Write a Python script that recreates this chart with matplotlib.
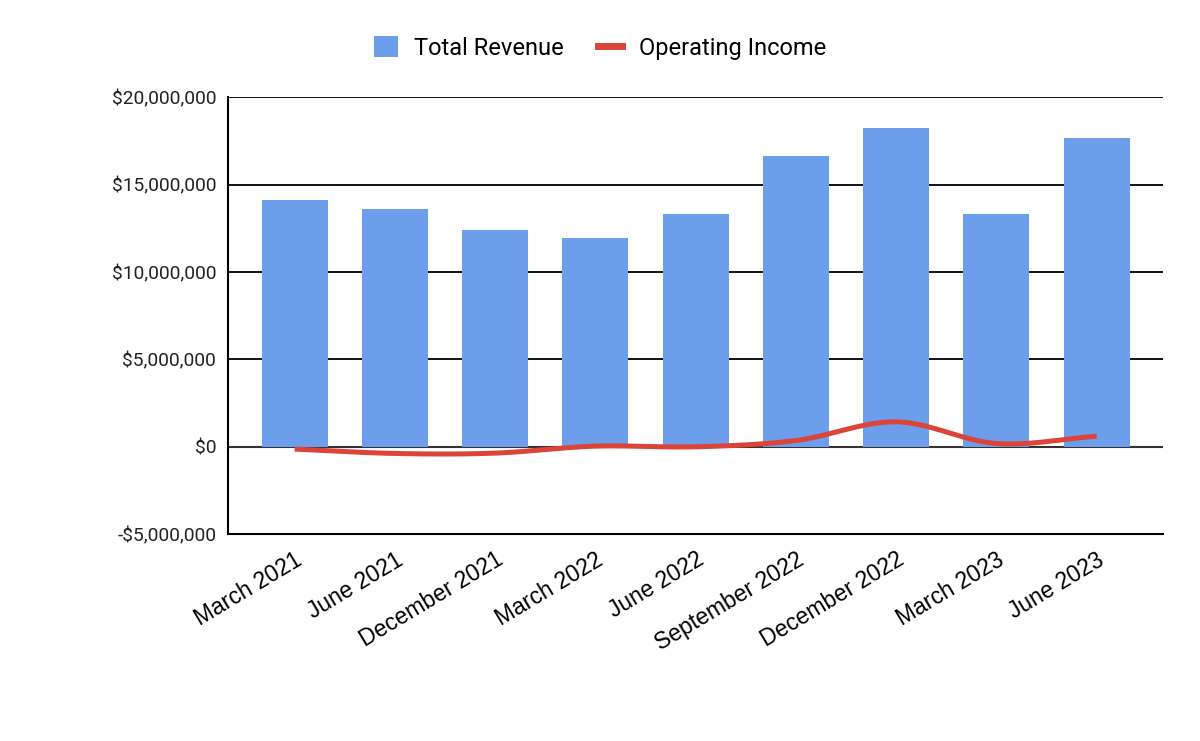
import matplotlib.pyplot as plt
import numpy as np
from matplotlib.lines import Line2D
from matplotlib.patches import Patch
from matplotlib.ticker import FuncFormatter

quarters = ['March 2021', 'June 2021', 'December 2021', 'March 2022', 'June 2022',
            'September 2022', 'December 2022', 'March 2023', 'June 2023']
total_revenue = [14.1e6, 13.62e6, 12.38e6, 11.92e6, 13.3e6, 16.61e6, 18.21e6, 13.3e6, 17.64e6]
operating_income = [-0.13e6, -0.38e6, -0.36e6, 0.04e6, 0.0, 0.36e6, 1.43e6, 0.19e6, 0.61e6]

bar_color = '#6d9eeb'
line_color = '#db4437'

plt.rcParams['font.family'] = ['Roboto', 'DejaVu Sans']

fig = plt.figure(figsize=(12, 7.41), dpi=100)
ax = fig.add_axes([0.19, 0.279, 0.779, 0.59])

x = np.arange(len(quarters))
ax.bar(x, total_revenue, width=0.66, color=bar_color, zorder=2)


# smooth curve through the points (catmull-rom), like the sheets "smooth" option
def smooth(xs, ys, n=30):
    xs = np.asarray(xs, float)
    ys = np.asarray(ys, float)
    px = np.concatenate([[2 * xs[0] - xs[1]], xs, [2 * xs[-1] - xs[-2]]])
    py = np.concatenate([[2 * ys[0] - ys[1]], ys, [2 * ys[-1] - ys[-2]]])
    out_x, out_y = [], []
    t = np.linspace(0, 1, n, endpoint=False)
    for i in range(1, len(px) - 2):
        for p, out in ((px, out_x), (py, out_y)):
            p0, p1, p2, p3 = p[i - 1], p[i], p[i + 1], p[i + 2]
            out.extend(0.5 * (2 * p1 + (-p0 + p2) * t + (2 * p0 - 5 * p1 + 4 * p2 - p3) * t ** 2
                              + (-p0 + 3 * p1 - 3 * p2 + p3) * t ** 3))
    out_x.append(xs[-1])
    out_y.append(ys[-1])
    return out_x, out_y


sx, sy = smooth(x, operating_income)
ax.plot(sx, sy, color=line_color, linewidth=3.6, solid_capstyle='butt', zorder=3)

ax.set_xlim(-0.665, 8.66)
ax.set_ylim(-5e6, 20e6)
ax.set_yticks(np.arange(-5e6, 20e6 + 1, 5e6))
ax.yaxis.set_major_formatter(FuncFormatter(
    lambda v, p: ('-$' if v < 0 else '$') + f'{abs(v):,.0f}'))
ax.tick_params(axis='y', length=0, pad=8.5, labelsize=13.8, labelcolor='#222222')

ax.set_xticks(x)
ax.set_xticklabels(quarters, rotation=31, ha='right', rotation_mode='anchor',
                   fontsize=16.5, family=['Liberation Sans', 'DejaVu Sans'])
ax.tick_params(axis='x', length=0, pad=10)

for v in [5e6, 10e6, 15e6, 20e6]:
    ax.axhline(v, color='black', linewidth=1.3, zorder=1)
ax.axhline(0, color='#333333', linewidth=1.5, zorder=1)

for s in ['top', 'right']:
    ax.spines[s].set_visible(False)
for s in ['left', 'bottom']:
    ax.spines[s].set_color('black')
    ax.spines[s].set_linewidth(1.5)

handles = [Patch(facecolor=bar_color, edgecolor='none'),
           Line2D([0], [0], color=line_color, linewidth=5)]
fig.legend(handles, ['Total Revenue', 'Operating Income'], loc='center',
           bbox_to_anchor=(0.5, 0.935), ncol=2, frameon=False, fontsize=17,
           handlelength=1.0, handleheight=1.0, columnspacing=1.45, handletextpad=0.7)

fig.savefig('out.png', dpi=100)
